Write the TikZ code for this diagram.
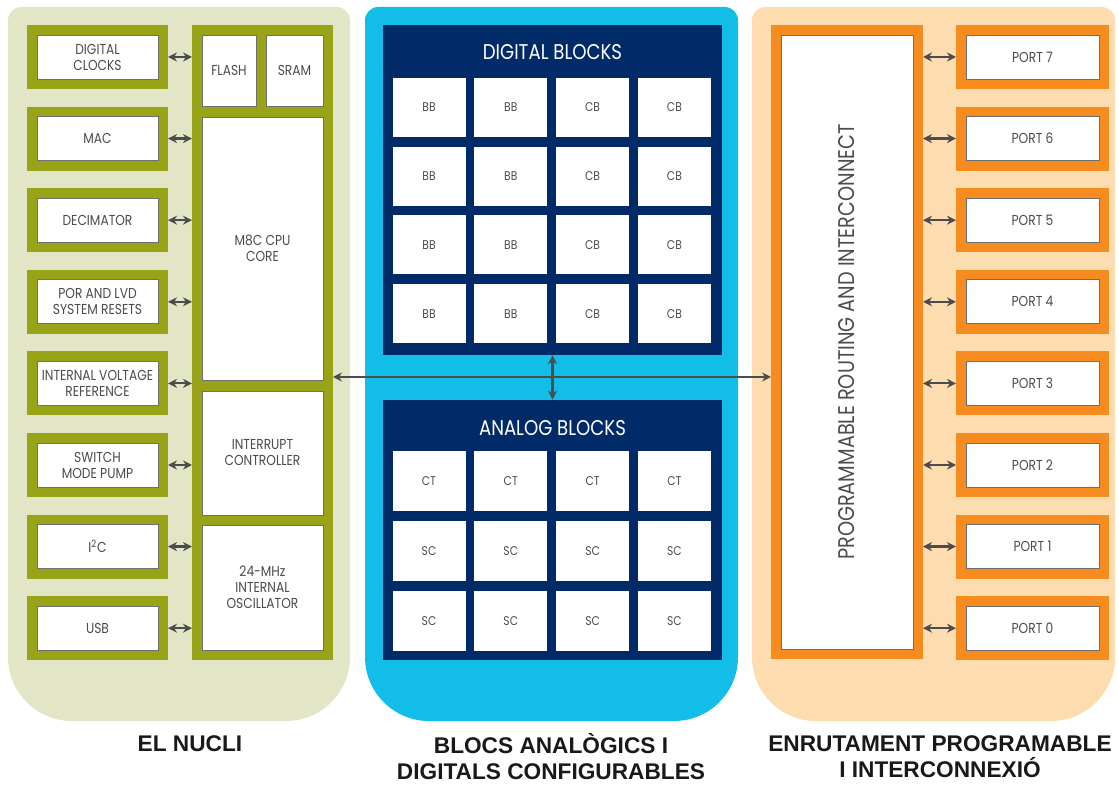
\documentclass[tikz,border=0pt]{standalone}
\usepackage{fontspec}
\setmainfont{Poppins}[FakeStretch=0.85]
\newfontfamily\capfont{Liberation Sans}
\usetikzlibrary{arrows.meta,positioning}

\definecolor{olivefrm}{HTML}{99A318}
\definecolor{olivebg}{HTML}{E3E6C6}
\definecolor{cyanbg}{HTML}{12BDE8}
\definecolor{navyblk}{HTML}{002B68}
\definecolor{orangefrm}{HTML}{F68B1F}
\definecolor{peachbg}{HTML}{FDDDAF}
\definecolor{txtgray}{HTML}{4C4C4C}

% one unit of the grid below
\newcommand\pu{0.75pt}

\begin{document}
\begin{tikzpicture}[x=\pu, y=-\pu,
  frm/.style={fill=white, draw=txtgray!80, line width=0.5pt, preaction={draw=#1, line width=20*\pu}, outer sep=10*\pu, text=txtgray, align=center, font=\fontsize{10.8}{12}\selectfont, minimum width=121*\pu, minimum height=44*\pu, inner sep=1pt},
  blk/.style={fill=white, draw=txtgray!80, line width=0.5pt, text=txtgray, align=center, font=\fontsize{10.8}{12}\selectfont, inner sep=1pt},
  cell/.style={fill=white, minimum width=73*\pu, minimum height=59*\pu, text=txtgray, font=\fontsize{9.5}{10}\selectfont},
  title/.style={text=white, font=\fontsize{16}{18}\selectfont},
  caption/.style={text=black!90, align=center, font=\capfont\bfseries\fontsize{17}{19.5}\selectfont},
  biarrow/.style={{Stealth[length=9*\pu,width=9*\pu]}-{Stealth[length=9*\pu,width=9*\pu]}, draw=txtgray, line width=2.2*\pu}]
\useasboundingbox[fill=white] (0,0) rectangle (1118,787);

% the three panels
\fill[olivebg] (8,360) [rounded corners=10pt] -- (8,7) -- (350,7) -- (350,360) [rounded corners=48pt] -- (350,721) -- (8,721) -- cycle;
\fill[cyanbg] (365,360) [rounded corners=10pt] -- (365,7) -- (738,7) -- (738,360) [rounded corners=48pt] -- (738,721) -- (365,721) -- cycle;
\fill[peachbg] (752,360) [rounded corners=10pt] -- (752,7) -- (1115,7) -- (1115,360) [rounded corners=48pt] -- (1115,721) -- (752,721) -- cycle;

% core
\foreach \lbl [count=\i from 0] in {{DIGITAL\\CLOCKS},MAC,DECIMATOR,{POR AND LVD\\SYSTEM RESETS},{INTERNAL VOLTAGE\\REFERENCE},{SWITCH\\MODE PUMP},I\textsuperscript{2}C,USB}
  \node[frm=olivefrm] (lb\i) at (97.5,{57+81.6*\i}) {\lbl};

\node[fill=olivefrm, minimum width=141*\pu, minimum height=635*\pu, outer sep=0pt] (core) at (262.5,342.5) {};
\node[blk, minimum width=54*\pu, minimum height=71*\pu] (flash) at (229,70.5) {FLASH};
\node[blk, minimum width=57*\pu, minimum height=71*\pu] (sram) at (294.5,70.5) {SRAM};
\node[blk, minimum width=121*\pu, minimum height=263*\pu] (cpu) at (262.5,248.5) {M8C CPU\\CORE};
\node[blk, minimum width=121*\pu, minimum height=124*\pu] (intc) at (262.5,453) {INTERRUPT\\CONTROLLER};
\node[blk, minimum width=121*\pu, minimum height=125*\pu] (osc) at (262.5,587.5) {24-MHz\\INTERNAL\\OSCILLATOR};

\foreach \i in {0,...,7}
  \draw[biarrow] (lb\i.east) -- (lb\i.east -| core.west);

% digital and analog blocks
\node[fill=navyblk, minimum width=339*\pu, minimum height=330*\pu] (digital) at (552.5,190) {};
\node[title] (digtitle) at (552.5,52) {DIGITAL BLOCKS};
\foreach \lbl [count=\j from 0] in {BB,BB,CB,CB}
  \foreach \r in {0,...,3}
    \node[cell] (d\r\j) at ({429+81.8*\j},{107.5+68.7*\r}) {\lbl};

\node[fill=navyblk, minimum width=339*\pu, minimum height=260*\pu] (analog) at (552.5,530) {};
\node[title] (angtitle) at (552.5,428) {ANALOG BLOCKS};
\foreach \j in {0,...,3} {
  \node[cell, minimum height=60*\pu] (a0\j) at ({429+81.8*\j},481.5) {CT};
  \foreach \r in {1,2}
    \node[cell, minimum height=60*\pu] (a\r\j) at ({429+81.8*\j},{481.5+69.7*\r}) {SC};
}
\draw[biarrow] (digital.south) -- (analog.north);

% routing and ports
\node[frm=orangefrm, minimum width=132*\pu, minimum height=614*\pu] (routing) at (847,342) {};
\node[rotate=90, text=txtgray, font=\fontsize{17}{19}\selectfont] (routelbl) at (routing.center) {PROGRAMMABLE ROUTING AND INTERCONNECT};
\foreach \p in {0,...,7} {
  \node[frm=orangefrm, minimum width=133*\pu] (port\p) at (1032.5,{57+81.6*(7-\p)}) {PORT \p};
  \draw[biarrow] (port\p.west -| routing.east) -- (port\p.west);
}

% main bus
\coordinate (bus) at (552.5,377);
\draw[biarrow] (bus -| core.east) -- (bus -| routing.west);

% captions
\node[caption] (capcore) at (190,744) {EL NUCLI};
\node[caption] (capblk) at (551,757) {BLOCS ANALÒGICS I\\DIGITALS CONFIGURABLES};
\node[caption] (caprt) at (940,757) {ENRUTAMENT PROGRAMABLE\\I INTERCONNEXIÓ};
\end{tikzpicture}
\end{document}
